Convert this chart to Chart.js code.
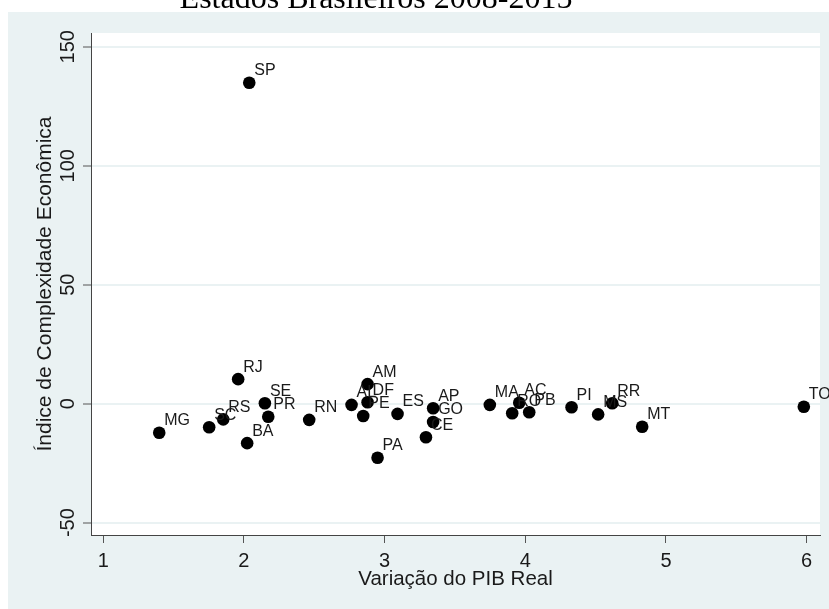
<!DOCTYPE html>
<html>
<head>
<meta charset="utf-8">
<script src="https://cdn.jsdelivr.net/npm/chart.js@4.4.1/dist/chart.umd.min.js"></script>
<style>
  html, body { margin: 0; padding: 0; background: #fff; }
  #wrap { width: 829px; height: 609px; position: relative; }
</style>
</head>
<body>
<div id="wrap"><canvas id="ieChart" width="829" height="609"></canvas></div>
<script>
// estados (rotulos), variacao do PIB real (x) e indice de complexidade (y)
var estados = ['SP','RJ','SE','PR','RS','SC','MG','BA','RN','AL','AM','DF','PE','ES',
               'AP','GO','CE','PA','MA','AC','RO','PB','PI','MS','RR','MT','TO']
var pibVar = [2.038, 1.959, 2.149, 2.173, 1.853, 1.753, 1.398, 2.023, 2.464, 2.765, 2.879, 2.879, 2.848, 3.092,
              3.345, 3.345, 3.294, 2.950, 3.748, 3.957, 3.907, 4.028, 4.329, 4.518, 4.618, 4.831, 5.980]
var indice = [134.9, 10.3, 0.2, -5.5, -6.6, -9.9, -12.2, -16.6, -6.8, -0.5, 8.2, 0.6, -5.2, -4.3,
              -1.9, -7.7, -14.1, -22.7, -0.5, 0.4, -4.0, -3.6, -1.5, -4.5, 0.2, -9.7, -1.3]
var xTicks = [1, 2, 3, 4, 5, 6]
var yTicks = [-50, 0, 50, 100, 150]

var bgCor = '#EAF2F3'
var fonte = '"Liberation Sans", Arial, sans-serif'

var pontos = []
for (var i = 0; i < estados.length; i++) {
    pontos.push({ x: pibVar[i], y: indice[i] })
}

// fundo estilo stata + titulo cortado
var fundo = {
    id: 'fundo',
    beforeDraw: function(chart) {
        var ctx = chart.ctx
        var a = chart.chartArea
        ctx.save()
        ctx.fillStyle = '#fff'
        ctx.fillRect(0, 0, chart.width, chart.height)
        ctx.fillStyle = bgCor
        ctx.fillRect(8, 12, chart.width - 8, chart.height - 12)
        ctx.fillStyle = '#fff'
        ctx.fillRect(a.left, a.top, a.right - a.left, a.bottom - a.top)
        ctx.fillStyle = '#000'
        ctx.font = '32px "Liberation Serif", "Times New Roman", serif'
        ctx.textAlign = 'center'
        ctx.textBaseline = 'alphabetic'
        ctx.fillText('Estados Brasileiros 2008-2015', 376, 8)
        ctx.restore()
    }
}

// textos dos eixos e rotulos dos pontos
var textos = {
    id: 'textos',
    afterDraw: function(chart) {
        var ctx = chart.ctx
        var xs = chart.scales.x
        var ys = chart.scales.y
        ctx.save()
        ctx.fillStyle = '#1a1a1a'
        ctx.font = '20px ' + fonte
        ctx.textAlign = 'center'
        ctx.textBaseline = 'middle'
        xTicks.forEach(function(v) {
            ctx.fillText(String(v), xs.getPixelForValue(v), 561)
        })
        yTicks.forEach(function(v) {
            ctx.save()
            ctx.translate(68, ys.getPixelForValue(v))
            ctx.rotate(-Math.PI / 2)
            ctx.fillText(String(v), 0, 0)
            ctx.restore()
        })
        ctx.font = '20.5px ' + fonte
        ctx.fillText('Variação do PIB Real', (chart.chartArea.left + chart.chartArea.right) / 2, 579)
        ctx.save()
        ctx.font = '21px ' + fonte
        ctx.translate(45, (chart.chartArea.top + chart.chartArea.bottom) / 2)
        ctx.rotate(-Math.PI / 2)
        ctx.fillText('Índice de Complexidade Econômica', 0, 0)
        ctx.restore()

        ctx.font = '16px ' + fonte
        ctx.textAlign = 'left'
        var meta = chart.getDatasetMeta(0)
        meta.data.forEach(function(p, i) {
            ctx.fillText(estados[i], p.x + 5, p.y - 12)
        })
        ctx.restore()
    }
}

var canvasElement = document.getElementById('ieChart')
var configure = {
    type: 'scatter',
    data: {
        datasets: [{
            label: 'Estados',
            data: pontos,
            backgroundColor: '#000',
            borderWidth: 0,
            pointRadius: 6.3,
            pointHoverRadius: 6.3
        }]
    },
    options: {
        responsive: false,
        animation: false,
        events: [],
        layout: { padding: { top: 33, right: 9, left: 0, bottom: 0 } },
        plugins: { legend: { display: false }, tooltip: { enabled: false } },
        scales: {
            x: {
                type: 'linear',
                min: 0.913,
                max: 6.095,
                afterBuildTicks: function(s) { s.ticks = xTicks.map(function(v) { return { value: v } }) },
                afterFit: function(s) { s.height = 74 },
                ticks: { display: false },
                grid: { drawOnChartArea: false, drawTicks: true, tickLength: 8, tickColor: '#555', tickWidth: 1 },
                border: { display: true, color: '#444', width: 1 }
            },
            y: {
                type: 'linear',
                min: -55.2,
                max: 155.8,
                afterBuildTicks: function(s) { s.ticks = yTicks.map(function(v) { return { value: v } }) },
                afterFit: function(s) { s.width = 91 },
                ticks: { display: false },
                grid: { color: bgCor, lineWidth: 2, drawTicks: true, tickLength: 8, tickColor: '#555', tickWidth: 1 },
                border: { display: true, color: '#444', width: 1 }
            }
        }
    },
    plugins: [fundo, textos]
}

var reportChart = new Chart(canvasElement, configure)
</script>
</body>
</html>
